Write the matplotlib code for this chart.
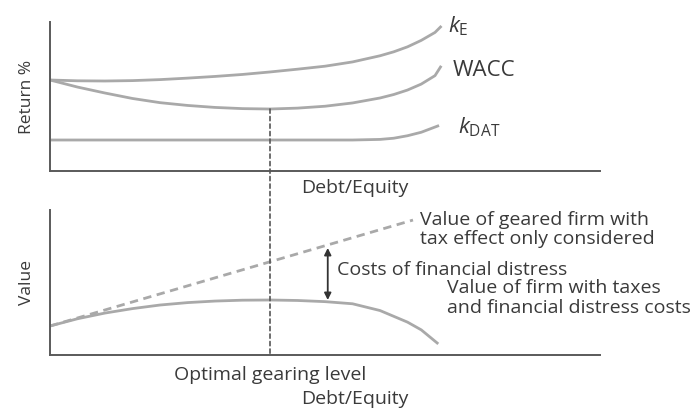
import matplotlib.pyplot as plt
from matplotlib.patches import ConnectionPatch

plt.rcParams['font.family'] = ['Open Sans', 'DejaVu Sans']
plt.rcParams['mathtext.fontset'] = 'custom'
plt.rcParams['mathtext.rm'] = 'Open Sans'
plt.rcParams['mathtext.it'] = 'Open Sans:italic'

# -- top panel: cost of capital vs gearing --
de_top = [0, 0.5, 1, 1.5, 2, 2.5, 3, 3.5, 4, 4.5, 5, 5.5, 6, 6.25, 6.5, 6.75, 7, 7.1]
k_e = [9.16, 9.08, 9.06, 9.1, 9.2, 9.35, 9.52, 9.72, 9.97, 10.25, 10.55, 10.98,
       11.6, 12.0, 12.5, 13.15, 13.95, 14.5]
wacc = [9.16, 8.45, 7.85, 7.3, 6.88, 6.6, 6.4, 6.28, 6.24, 6.33, 6.52, 6.85,
        7.35, 7.7, 8.15, 8.75, 9.6, 10.47]
de_kdat = [0, 2, 4, 5.5, 6, 6.25, 6.5, 6.75, 7.05]
k_dat = [3.12, 3.12, 3.12, 3.12, 3.18, 3.3, 3.55, 3.9, 4.53]

# -- bottom panel: firm value vs gearing --
de_tax = [0, 6.6]
v_tax = [3.0, 13.96]
de_val = [0, 0.5, 1, 1.5, 2, 2.5, 3, 3.5, 4, 4.5, 5, 5.5, 6, 6.5, 6.75, 7.04]
v_firm = [3.0, 3.75, 4.34, 4.8, 5.17, 5.42, 5.58, 5.67, 5.69, 5.64, 5.52, 5.3,
          4.6, 3.4, 2.6, 1.24]
optimal = 4
arrow_x = 5.05
arrow_y = (11.07, 5.69)

line_col = '#a9a9a9'
axis_col = '#5a5a5a'
text_col = '#3a3a3a'
fs = 14

fig = plt.figure(figsize=(6.99, 4.09), dpi=100)
W, H = 699, 409
ax1 = fig.add_axes([50 / W, 1 - 171 / H, 550 / W, 149 / H])
ax2 = fig.add_axes([50 / W, 1 - 355 / H, 550 / W, 145 / H])

for ax in (ax1, ax2):
    ax.set_xlim(0, 10)
    ax.set_ylim(0, 15)
    ax.set_xticks([])
    ax.set_yticks([])
    for s in ('top', 'right'):
        ax.spines[s].set_visible(False)
    for s in ('left', 'bottom'):
        ax.spines[s].set_color(axis_col)
        ax.spines[s].set_linewidth(1.4)
    ax.patch.set_alpha(0)

ax1.plot(de_top, k_e, color=line_col, lw=2, solid_joinstyle='round')
ax1.plot(de_top, wacc, color=line_col, lw=2, solid_joinstyle='round')
ax1.plot(de_kdat, k_dat, color=line_col, lw=2, solid_joinstyle='round')
ax1.text(7.24, 14.6, r'$k_\mathrm{E}$', fontsize=16, color=text_col, va='center')
ax1.text(7.33, 10.1, 'WACC', fontsize=16, color=text_col, va='center')
ax1.text(7.42, 4.4, r'$k_\mathrm{DAT}$', fontsize=16, color=text_col, va='center')
ax1.set_ylabel('Return %', fontsize=12.5, color=text_col, labelpad=11)
ax1.text(0.555, -0.115, 'Debt/Equity', transform=ax1.transAxes, fontsize=fs,
         color=text_col, ha='center', va='center')

ax2.plot(de_tax, v_tax, color=line_col, lw=2, ls=(0, (3, 2)))
ax2.plot(de_val, v_firm, color=line_col, lw=2, solid_joinstyle='round')
ax2.annotate('', xy=(arrow_x, arrow_y[0]), xytext=(arrow_x, arrow_y[1]),
             arrowprops=dict(arrowstyle='<|-|>', color='#333333', lw=1.3,
                             mutation_scale=10, shrinkA=0, shrinkB=0))
ax2.text(6.73, 13.0, 'Value of geared firm with\ntax effect only considered',
         fontsize=fs, color=text_col, va='center', linespacing=1.1)
ax2.text(5.22, 8.79, 'Costs of financial distress', fontsize=fs,
         color=text_col, va='center')
ax2.text(7.22, 5.9, 'Value of firm with taxes\nand financial distress costs',
         fontsize=fs, color=text_col, va='center', linespacing=1.1)
ax2.set_ylabel('Value', fontsize=12.5, color=text_col, labelpad=11)
ax2.text(optimal, -0.138, 'Optimal gearing level', transform=ax2.get_xaxis_transform(),
         fontsize=fs, color=text_col, ha='center', va='center')
ax2.text(0.555, -0.30, 'Debt/Equity', transform=ax2.transAxes, fontsize=fs,
         color=text_col, ha='center', va='center')

# dotted line from WACC minimum down to the lower x axis
con = ConnectionPatch(xyA=(optimal, min(wacc)), coordsA=ax1.transData,
                      xyB=(optimal, 0), coordsB=ax2.transData,
                      color='#555555', lw=1.2, ls=(0, (2.5, 2)))
fig.add_artist(con)

fig.savefig('out.png', dpi=100)
